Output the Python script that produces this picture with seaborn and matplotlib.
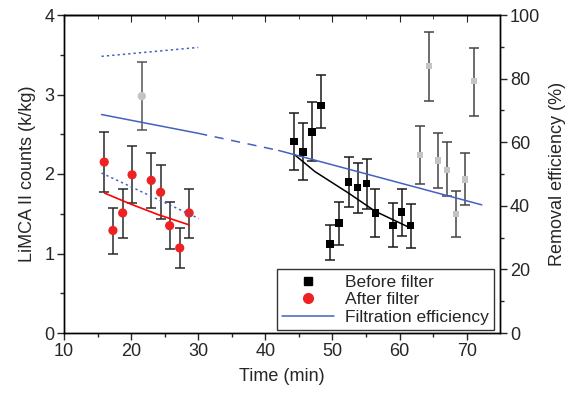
import numpy as np
import pandas as pd
import matplotlib
matplotlib.use("Agg")
import matplotlib.pyplot as plt
from matplotlib.lines import Line2D
import seaborn as sns

# after filter (red circles)
after_t = [16.0, 17.3, 18.75, 20.15, 23.0, 24.4, 25.75, 27.25, 28.65]
after_c = [2.15, 1.29, 1.51, 1.99, 1.92, 1.77, 1.35, 1.07, 1.51]
after_hi = [2.53, 1.57, 1.81, 2.35, 2.27, 2.11, 1.65, 1.32, 1.81]
after_lo = [1.77, 1.00, 1.20, 1.63, 1.57, 1.43, 1.06, 0.82, 1.20]
# outlier (grey circle)
after_out_t = [21.6]
after_out_c = [2.98]
after_out_hi = [3.41]
after_out_lo = [2.55]

# before filter (black squares)
before_t = [44.3, 45.65, 47.0, 48.3, 49.65, 51.0, 52.4, 53.75, 55.1, 56.4, 59.0, 60.3, 61.65]
before_c = [2.41, 2.28, 2.53, 2.86, 1.12, 1.38, 1.90, 1.83, 1.88, 1.51, 1.35, 1.52, 1.35]
before_hi = [2.77, 2.64, 2.90, 3.25, 1.36, 1.65, 2.22, 2.14, 2.19, 1.81, 1.63, 1.81, 1.62]
before_lo = [2.05, 1.93, 2.16, 2.58, 0.92, 1.11, 1.58, 1.51, 1.56, 1.21, 1.08, 1.22, 1.07]
# grey squares
grey_t = [63.0, 64.35, 65.75, 67.1, 68.45, 69.8, 71.15]
grey_c = [2.24, 3.36, 2.17, 2.05, 1.50, 1.93, 3.17]
grey_hi = [2.60, 3.79, 2.52, 2.40, 1.78, 2.26, 3.59]
grey_lo = [1.88, 2.92, 1.82, 1.72, 1.21, 1.61, 2.73]

# fitted curves
red_fit_t = [16.05, 20.0, 24.0, 28.65]
red_fit_c = [1.76, 1.62, 1.49, 1.36]
black_fit_t = [44.4, 47.4, 52.4, 56.4, 61.65]
black_fit_c = [2.24, 2.03, 1.76, 1.53, 1.32]

# removal efficiency (%)
eff_t1 = [15.6, 30.0]
eff_v1 = [68.7, 62.8]
eff_t2 = [30.0, 42.0]
eff_v2 = [62.8, 57.4]
eff_t3 = [42.0, 72.25]
eff_v3 = [57.4, 40.3]
dot_up_t = [15.6, 30.0]
dot_up_v = [87.0, 89.8]
dot_lo_t = [15.6, 30.1]
dot_lo_v = [50.3, 36.0]
dot_base_t = [30.4, 75.0]
dot_base_v = [0.0, 0.0]

sns.set_style("ticks")
plt.rcParams['font.family'] = ['Liberation Sans', 'DejaVu Sans']
plt.rcParams['font.size'] = 13

blue = "#4461bd"
fig = plt.figure(figsize=(5.71, 4.0), dpi=100)
ax = fig.add_axes([0.112, 0.1675, 0.764, 0.795])
ax2 = ax.twinx()

def bars(t, c, lo, hi, col):
    c = np.array(c)
    ax.errorbar(t, c, yerr=[c - np.array(lo), np.array(hi) - c], fmt='none',
                ecolor=col, elinewidth=1.1, capsize=3.6, capthick=1.1, zorder=2)

bars(after_t, after_c, after_lo, after_hi, '#2a2a2a')
bars(after_out_t, after_out_c, after_out_lo, after_out_hi, '#555555')
bars(before_t, before_c, before_lo, before_hi, '#1a1a1a')
bars(grey_t, grey_c, grey_lo, grey_hi, '#444444')

sns.lineplot(x=red_fit_t, y=red_fit_c, ax=ax, color='red', lw=1.2, zorder=3)
sns.lineplot(x=black_fit_t, y=black_fit_c, ax=ax, color='black', lw=1.1, zorder=3)

sns.scatterplot(x=after_t, y=after_c, ax=ax, color='#ee2222', s=44, marker='o',
                edgecolor='none', zorder=4)
sns.scatterplot(x=after_out_t, y=after_out_c, ax=ax, color='#c4c4c4', s=36, marker='o',
                edgecolor='none', zorder=4)
sns.scatterplot(x=before_t, y=before_c, ax=ax, color='black', s=30, marker='s',
                edgecolor='none', zorder=4)
sns.scatterplot(x=grey_t, y=grey_c, ax=ax, color='#c4c4c4', s=20, marker='s',
                edgecolor='none', zorder=4)

sns.lineplot(x=eff_t1, y=eff_v1, ax=ax2, color=blue, lw=1.1)
sns.lineplot(x=eff_t2, y=eff_v2, ax=ax2, color=blue, lw=1.1, linestyle=(0, (6, 5)))
sns.lineplot(x=eff_t3, y=eff_v3, ax=ax2, color=blue, lw=1.1)
sns.lineplot(x=dot_up_t, y=dot_up_v, ax=ax2, color=blue, lw=1.1, linestyle=(0, (1.5, 2)))
sns.lineplot(x=dot_lo_t, y=dot_lo_v, ax=ax2, color=blue, lw=1.1, linestyle=(0, (1.5, 2)))
sns.lineplot(x=dot_base_t, y=dot_base_v, ax=ax2, color=blue, lw=0.8, linestyle=(0, (1.5, 2)),
             clip_on=False)

ax.set_xlim(10, 75)
ax.set_ylim(0, 4)
ax2.set_ylim(0, 100)
ax.set_xticks([10, 20, 30, 40, 50, 60, 70])
ax.set_xticks(np.arange(15, 75, 10), minor=True)
ax.set_yticks([0, 1, 2, 3, 4])
ax.set_yticks([0.5, 1.5, 2.5, 3.5], minor=True)
ax2.set_yticks([0, 20, 40, 60, 80, 100])
ax2.set_yticks([10, 30, 50, 70, 90], minor=True)

for a in (ax, ax2):
    a.tick_params(which='major', length=5, width=1, direction='out', labelsize=13, pad=2)
    a.tick_params(which='minor', length=3, width=1, direction='out')
    for s in a.spines.values():
        s.set_linewidth(1.0)
        s.set_color('black')

top = ax.secondary_xaxis('top')
top.set_xticks([10, 20, 30, 40, 50, 60, 70])
top.set_xticks(np.arange(15, 75, 10), minor=True)
top.tick_params(which='major', length=5, direction='in', labeltop=False)
top.tick_params(which='minor', length=3, direction='in')
top.spines['top'].set_linewidth(1.0)

ax.set_xlabel("Time (min)", fontsize=13, labelpad=6)
ax.set_ylabel("LiMCA II counts (k/kg)", fontsize=13, labelpad=6)
ax2.set_ylabel("Removal efficiency (%)", fontsize=13, labelpad=6)

handles = [
    Line2D([], [], marker='s', color='black', linestyle='none', markersize=5.5),
    Line2D([], [], marker='o', color='#ee2222', linestyle='none', markersize=7),
    Line2D([], [], color=blue, lw=1.1),
]
leg = ax2.legend(handles, ["Before filter", "After filter", "Filtration efficiency"],
                 loc='lower right', bbox_to_anchor=(0.985, 0.008), fontsize=12.5,
                 frameon=True, fancybox=False, handlelength=3.0, borderpad=0.3,
                 labelspacing=0.15, handletextpad=0.6, borderaxespad=0)
leg.get_frame().set_edgecolor('black')
leg.get_frame().set_linewidth(1.0)

fig.savefig("out.png", dpi=100)
